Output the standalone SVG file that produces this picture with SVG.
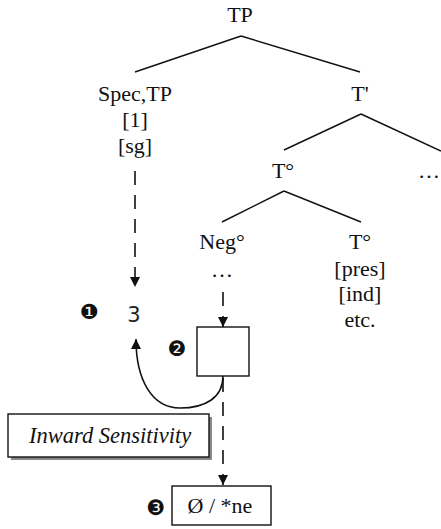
<svg xmlns="http://www.w3.org/2000/svg" width="441" height="529" viewBox="0 0 441 529">
<style>
.t{font-family:'Liberation Serif','DejaVu Serif',serif;font-size:22px;fill:#111;text-anchor:middle}
.it{font-family:'Liberation Serif','DejaVu Serif',serif;font-size:22.5px;font-style:italic;fill:#111}
.num{font-family:'DejaVu Sans',sans-serif;font-size:21px;fill:#111;text-anchor:middle}
.three{font-family:'DejaVu Sans','Liberation Sans',sans-serif;font-size:21px;fill:#222;text-anchor:middle}
.br{stroke:#111;stroke-width:1.4;fill:none}
.dash{stroke:#111;stroke-width:1.6;fill:none;stroke-dasharray:14 10}
.box{fill:#fff;stroke:#111;stroke-width:1.4}
</style>
<defs>
<marker id="ah" viewBox="0 0 10 10" refX="10" refY="5" markerWidth="10" markerHeight="10" markerUnits="userSpaceOnUse" orient="auto">
<path d="M0,0 L10,5 L0,10 z" fill="#111"/>
</marker>
</defs>
<rect width="441" height="529" fill="#fff"/>
<g id="connectors">
<path class="br" d="M241,36 L135,72 M241,36 L360,72"/>
<path class="br" d="M361,114 L284,150 M361,114 L441,151"/>
<path class="br" d="M284,191 L222,222 M284,191 L361,222"/>
<path class="dash" d="M135,171 L135,287" marker-end="url(#ah)"/>
<path class="dash" d="M223,292 L223,327" marker-end="url(#ah)"/>
<path class="dash" d="M223,378 L223,485" marker-end="url(#ah)"/>
<path class="br" style="stroke-width:1.6" d="M223,376 C223,398 205,408 180,408 C152,408 136,380 136,339" marker-end="url(#ah)"/>
</g>
<g id="tp"><text class="t" x="240" y="22">TP</text></g>
<g id="spec"><text class="t" x="135" y="101">Spec,TP</text><text class="t" x="135" y="127">[1]</text><text class="t" x="135" y="153">[sg]</text></g>
<g id="tbar"><text class="t" x="360" y="101">T'</text></g>
<g id="t0"><text class="t" x="283" y="178">T°</text></g>
<g id="dots-right"><text class="t" x="440" y="178" style="text-anchor:end">…</text></g>
<g id="neg"><text class="t" x="222" y="249">Neg°</text><text class="t" x="222" y="277">…</text></g>
<g id="t0b"><text class="t" x="360" y="249">T°</text><text class="t" x="360" y="276">[pres]</text><text class="t" x="360" y="301">[ind]</text><text class="t" x="360" y="327">etc.</text></g>
<g id="n1"><text class="num" x="89" y="319">❶</text><text class="three" x="134" y="322">3</text></g>
<g id="n2"><text class="num" x="177" y="356">❷</text><rect class="box" x="197" y="327" width="52" height="49"/></g>
<g id="inward"><rect x="11" y="417" width="201" height="43" fill="#8a8a8a"/><rect class="box" x="8" y="414" width="201" height="43"/><text class="it" x="29" y="443">Inward Sensitivity</text></g>
<g id="n3"><text class="num" x="156" y="515">❸</text><rect class="box" x="172" y="486" width="99" height="39"/><text class="t" x="220" y="513">Ø / *ne</text></g>
</svg>
